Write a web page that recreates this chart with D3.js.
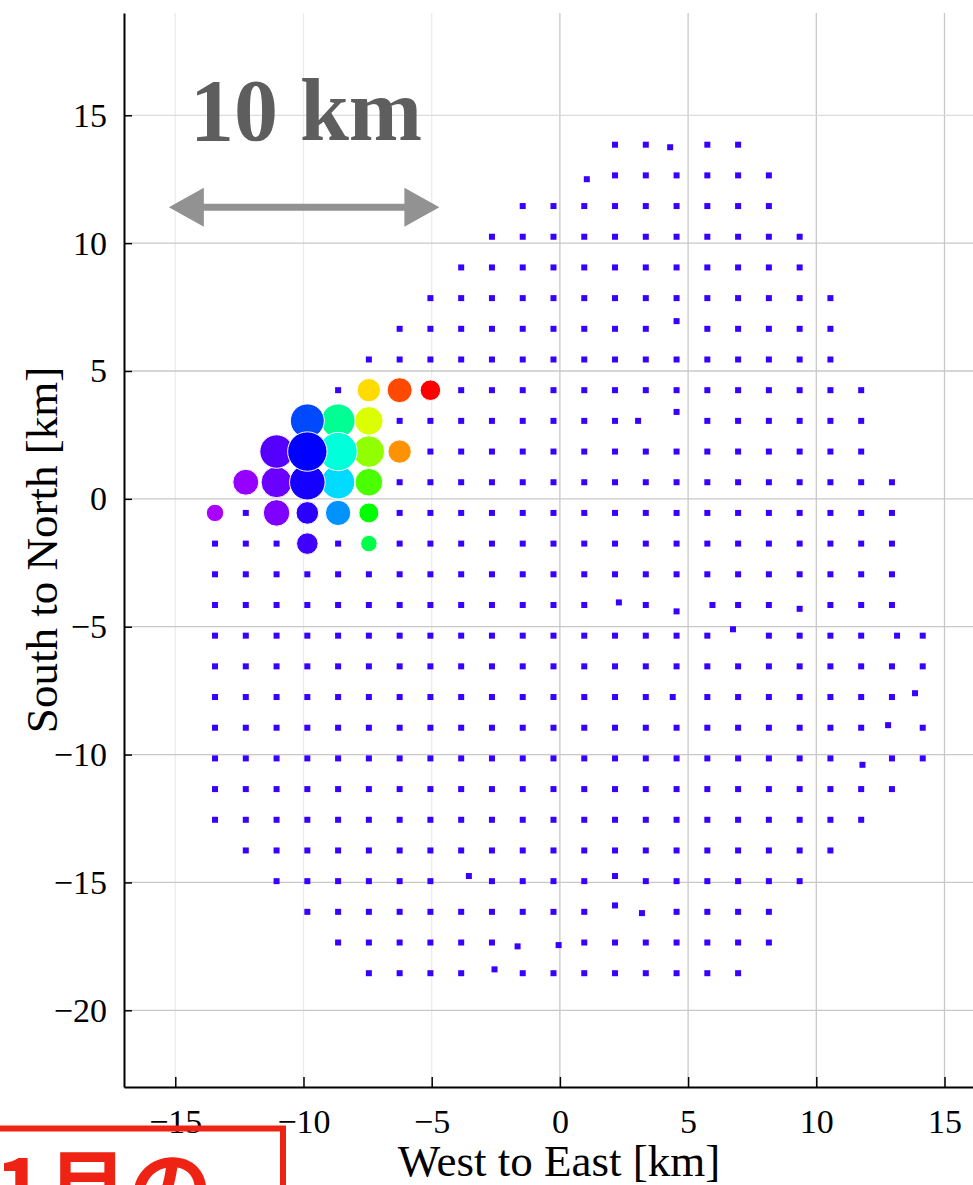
<!DOCTYPE html>
<html>
<head>
<meta charset="utf-8">
<script src="https://cdn.jsdelivr.net/npm/d3@7"></script>
<style>
  body { margin: 0; background: #fff; }
  svg { display: block; }
</style>
</head>
<body>
<script>
// station rows (km)
const rowY = [13.85, 12.65, 11.45, 10.25, 9.05, 7.85, 6.65, 5.45, 4.25, 3.05, 1.85, 0.65, -0.55, -1.75,
  -2.95, -4.15, -5.35, -6.55, -7.75, -8.95, -10.15, -11.35, -12.55, -13.75, -14.95, -16.15, -17.35, -18.55];

const rowX = [
  [2.15, 3.35, 5.75, 6.95],
  [2.15, 3.35, 4.55, 5.75, 6.95, 8.15],
  [-1.45, -0.25, 0.95, 2.15, 3.35, 4.55, 5.75, 6.95, 8.15],
  [-2.65, -1.45, -0.25, 0.95, 2.15, 3.35, 4.55, 5.75, 6.95, 8.15, 9.35],
  [-3.85, -2.65, -1.45, -0.25, 0.95, 2.15, 3.35, 4.55, 5.75, 6.95, 8.15, 9.35],
  [-5.05, -3.85, -2.65, -1.45, -0.25, 0.95, 2.15, 3.35, 4.55, 5.75, 6.95, 8.15, 9.35, 10.55],
  [-6.25, -5.05, -3.85, -2.65, -1.45, -0.25, 0.95, 2.15, 3.35, 5.75, 6.95, 8.15, 9.35, 10.55],
  [-7.45, -6.25, -5.05, -3.85, -2.65, -1.45, -0.25, 0.95, 2.15, 3.35, 4.55, 5.75, 6.95, 8.15, 9.35, 10.55],
  [-8.65, -7.45, -6.25, -5.05, -3.85, -2.65, -1.45, -0.25, 0.95, 2.15, 3.35, 4.55, 5.75, 6.95, 8.15, 9.35, 10.55, 11.75],
  [-9.85, -8.65, -7.45, -6.25, -5.05, -3.85, -2.65, -1.45, -0.25, 0.95, 2.15, 3.05, 5.75, 6.95, 8.15, 9.35, 10.55, 11.75],
  [-11.05, -9.85, -8.65, -7.45, -6.25, -5.05, -3.85, -2.65, -1.45, -0.25, 0.95, 2.15, 3.35, 4.55, 5.75, 6.95, 8.15, 9.35, 10.55, 11.75],
  [-12.25, -11.05, -9.85, -8.65, -7.45, -6.25, -5.05, -3.85, -2.65, -1.45, -0.25, 0.95, 2.15, 3.35, 4.55, 5.75, 6.95, 8.15, 9.35, 10.55, 11.75, 12.95],
  [-13.45, -12.25, -11.05, -9.85, -8.65, -7.45, -6.25, -5.05, -3.85, -2.65, -1.45, -0.25, 0.95, 2.15, 3.35, 4.55, 5.75, 6.95, 8.15, 9.35, 10.55, 11.75, 12.95],
  [-13.45, -12.25, -11.05, -9.85, -8.65, -7.45, -6.25, -5.05, -3.85, -2.65, -1.45, -0.25, 0.95, 2.15, 3.35, 4.55, 5.75, 6.95, 8.15, 9.35, 10.55, 11.75, 12.95],
  [-13.45, -12.25, -11.05, -9.85, -8.65, -7.45, -6.25, -5.05, -3.85, -2.65, -1.45, -0.25, 0.95, 2.15, 3.35, 4.55, 5.75, 6.95, 8.15, 9.35, 10.55, 11.75, 12.95],
  [-13.45, -12.25, -11.05, -9.85, -8.65, -7.45, -6.25, -5.05, -3.85, -2.65, -1.45, -0.25, 0.95, 3.35, 5.95, 6.95, 8.15, 10.55, 11.75, 12.95],
  [-13.45, -12.25, -11.05, -9.85, -8.65, -7.45, -6.25, -5.05, -3.85, -2.65, -1.45, -0.25, 0.95, 2.15, 3.35, 4.55, 5.75, 8.15, 9.35, 10.55, 11.75, 13.15, 14.15],
  [-13.45, -12.25, -11.05, -9.85, -8.65, -7.45, -6.25, -5.05, -3.85, -2.65, -1.45, -0.25, 0.95, 2.15, 3.35, 4.55, 5.75, 6.95, 8.15, 9.35, 10.55, 11.75, 12.95, 14.15],
  [-13.45, -12.25, -11.05, -9.85, -8.65, -7.45, -6.25, -5.05, -3.85, -2.65, -1.45, -0.25, 0.95, 2.15, 3.35, 4.4, 5.75, 6.95, 8.15, 9.35, 10.55, 11.75, 12.95],
  [-13.45, -12.25, -11.05, -9.85, -8.65, -7.45, -6.25, -5.05, -3.85, -2.65, -1.45, -0.25, 0.95, 2.15, 3.35, 4.55, 5.75, 6.95, 8.15, 9.35, 10.55, 11.75, 14.15],
  [-13.45, -12.25, -11.05, -9.85, -8.65, -7.45, -6.25, -5.05, -3.85, -2.65, -1.45, -0.25, 0.95, 2.15, 3.35, 4.55, 5.75, 6.95, 8.15, 9.35, 10.55, 12.95, 14.15],
  [-13.45, -12.25, -11.05, -9.85, -8.65, -7.45, -6.25, -5.05, -3.85, -2.65, -1.45, -0.25, 0.95, 2.15, 3.35, 4.55, 5.75, 6.95, 8.15, 9.35, 10.55, 11.75, 12.95],
  [-13.45, -12.25, -11.05, -9.85, -8.65, -7.45, -6.25, -5.05, -3.85, -2.65, -1.45, -0.25, 0.95, 2.15, 3.35, 4.55, 5.75, 6.95, 8.15, 9.35, 10.55, 11.75],
  [-12.25, -11.05, -9.85, -8.65, -7.45, -6.25, -5.05, -3.85, -2.65, -1.45, -0.25, 0.95, 2.15, 3.35, 4.55, 5.75, 6.95, 8.15, 9.35, 10.55],
  [-11.05, -9.85, -8.65, -7.45, -6.25, -5.05, -2.65, -1.45, -0.25, 0.95, 3.35, 4.55, 5.75, 6.95, 8.15, 9.35],
  [-9.85, -8.65, -7.45, -6.25, -5.05, -3.85, -2.65, -1.45, -0.25, 0.95, 4.55, 5.75, 6.95, 8.15],
  [-8.65, -7.45, -6.25, -5.05, -3.85, -2.65, 0.95, 2.15, 3.35, 4.55, 5.75, 6.95, 8.15],
  [-7.45, -6.25, -5.05, -3.85, -1.45, -0.25, 0.95, 2.15, 3.35, 4.55, 5.75, 6.95]
];

// stations that sit off their row
const offRowX = [4.3, 1.05, 4.55, 4.55, 2.3, 4.55, 9.35, 6.75, 13.85, 12.8, 11.8, -3.55, 2.15, 2.15, 3.2, -1.65, -0.05, -2.55];
const offRowY = [13.75, 12.5, 6.95, 3.4, -4.05, -4.4, -4.3, -5.1, -7.6, -8.85, -10.4, -14.75, -14.75, -15.9, -16.2, -17.5, -17.45, -18.4];

// coloured events: position, size value, order
const eventX = [-5.05, -6.25, -6.25, -7.45, -7.45, -7.45, -7.45, -7.45, -7.45, -8.65, -8.65, -8.65, -8.65,
  -9.85, -9.85, -9.85, -9.85, -9.85, -11.05, -11.05, -11.05, -12.25, -13.45];
const eventY = [4.25, 4.25, 1.85, 4.25, 3.05, 1.85, 0.65, -0.55, -1.75, 3.05, 1.85, 0.65, -0.55,
  3.05, 1.85, 0.65, -0.55, -1.75, 1.85, 0.65, -0.55, 0.65, -0.55];
const eventSize = [26.5, 39, 34, 34, 51, 62, 48, 25, 17, 72, 92, 70, 40, 72, 97, 79, 32, 29, 70, 60, 44, 42, 19];
const eventOrder = d3.range(eventX.length);

const xTicks = [-15, -10, -5, 0, 5, 10, 15];
const yTicks = [-20, -15, -10, -5, 0, 5, 10, 15];

const width = 973, height = 1185;
const svg = d3.select("body").append("svg").attr("width", width).attr("height", height);
svg.append("rect").attr("width", width).attr("height", height).attr("fill", "#fff");

const x = d3.scaleLinear().domain([-17, 16.15]).range([124, 974]);
const y = d3.scaleLinear().domain([-23, 19]).range([1087, 13]);
const serif = "'Liberation Serif', 'Times New Roman', serif";

// grid
const grid = svg.append("g");
grid.selectAll(".vg").data(xTicks).enter().append("line")
  .attr("x1", d => x(d)).attr("x2", d => x(d))
  .attr("y1", y.range()[1]).attr("y2", y.range()[0])
  .attr("stroke", d => d < 0 ? "#ececec" : "#c8c8c8").attr("stroke-width", 1.3);
grid.selectAll(".hg").data(yTicks).enter().append("line")
  .attr("x1", x.range()[0]).attr("x2", x.range()[1])
  .attr("y1", d => y(d)).attr("y2", d => y(d))
  .attr("stroke", d => d === 15 ? "#dcdcdc" : "#c8c8c8").attr("stroke-width", 1.3);

// stations
const stations = [];
rowX.forEach((xs, i) => xs.forEach(v => stations.push([v, rowY[i]])));
offRowX.forEach((v, i) => stations.push([v, offRowY[i]]));
const sq = 6;
svg.append("g").selectAll("rect").data(stations).enter().append("rect")
  .attr("x", d => x(d[0]) - sq / 2).attr("y", d => y(d[1]) - sq / 2)
  .attr("width", sq).attr("height", sq).attr("fill", "#3700ff");

// events
const r = d3.scaleSqrt().domain([0, 100]).range([0, 20]);
const hue = d3.scaleLinear().domain([0, 14, 22]).range([0, 240, 280]);
const events = eventOrder.map(i => ({ x: eventX[i], y: eventY[i], v: eventSize[i], o: i }))
  .sort((a, b) => a.v - b.v);
svg.append("g").selectAll("circle").data(events).enter().append("circle")
  .attr("cx", d => x(d.x)).attr("cy", d => y(d.y)).attr("r", d => r(d.v))
  .attr("fill", d => d3.hsl(hue(d.o), 1, 0.5).formatHex())
  .attr("stroke", "#fff").attr("stroke-width", 1);

// axes
const gx = svg.append("g").attr("transform", `translate(0,${y.range()[0]})`)
  .call(d3.axisBottom(x).tickValues(xTicks).tickSizeInner(-10).tickSizeOuter(0).tickPadding(22));
const gy = svg.append("g").attr("transform", `translate(${x.range()[0]},0)`)
  .call(d3.axisLeft(y).tickValues(yTicks).tickSizeInner(-8).tickSizeOuter(0).tickPadding(17));
[gx, gy].forEach(g => {
  g.attr("font-family", serif).attr("font-size", 34);
  g.select(".domain").attr("stroke", "#000").attr("stroke-width", 2);
  g.selectAll(".tick line").attr("stroke", "#000").attr("stroke-width", 1.5);
  g.selectAll(".tick text").attr("fill", "#000");
});

svg.append("text").attr("x", 559).attr("y", 1176).attr("text-anchor", "middle")
  .attr("font-family", serif).attr("font-size", 45).text("West to East [km]");
svg.append("text").attr("transform", "translate(57,550) rotate(-90)").attr("text-anchor", "middle")
  .attr("font-family", serif).attr("font-size", 45).text("South to North [km]");

// 10 km scale bar
const barX = [-15.25, -4.7], barY = 11.4;
const ax0 = x(barX[0]), ax1 = x(barX[1]), ay = y(barY);
const head = 35, hw = 19.5, sw = 3.5;
svg.append("path")
  .attr("d", `M${ax0},${ay} L${ax0 + head},${ay - hw} L${ax0 + head},${ay - sw} L${ax1 - head},${ay - sw} L${ax1 - head},${ay - hw}
    L${ax1},${ay} L${ax1 - head},${ay + hw} L${ax1 - head},${ay + sw} L${ax0 + head},${ay + sw} L${ax0 + head},${ay + hw} Z`)
  .attr("fill", "#929292");
svg.append("text").attr("x", x(-9.9)).attr("y", y(14.05)).attr("text-anchor", "middle")
  .attr("font-family", serif).attr("font-weight", "bold").attr("font-size", 88)
  .attr("fill", "#5e5e5e").text("10 km");

// red caption box at the bottom
svg.append("rect").attr("x", -10).attr("y", 1128.5).attr("width", 293).attr("height", 120)
  .attr("fill", "none").attr("stroke", "#ef2314").attr("stroke-width", 6);
svg.append("text").attr("x", -5).attr("y", 1220)
  .attr("font-family", "'Noto Sans CJK JP', sans-serif").attr("font-weight", "bold").attr("font-size", 84)
  .attr("fill", "#ef2314").text("1月の");
</script>
</body>
</html>
